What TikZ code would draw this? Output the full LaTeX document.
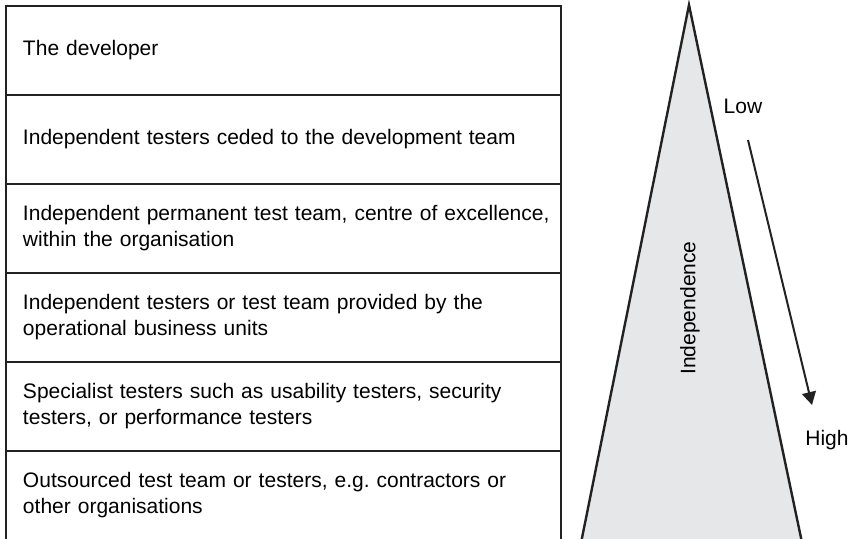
\documentclass[tikz,border=0pt]{standalone}
\usepackage{fontspec}
\setmainfont{Liberation Sans}
\usetikzlibrary{positioning, arrows.meta}
\definecolor{coneGray}{HTML}{E6E7E9}
\definecolor{lineDark}{HTML}{222222}

\begin{document}
\begin{tikzpicture}
        [
            x = 1pt, y = 1pt,
            level/.style = {draw = lineDark, line width = 2.2pt, rectangle, anchor = north, outer sep = 0pt, inner xsep = 17pt, inner ysep = 0pt, text width = 521pt, minimum height = 89pt, align = left, font = \fontsize{21}{26}\selectfont},
            label/.style = {font = \fontsize{21}{24}\selectfont, inner sep = 0pt}
        ]
        \useasboundingbox (0, 0) rectangle (848, 538);
        % levels of independence, top to bottom
        \node[level, anchor = north west] (dev) at (6, 532) {The developer};
        \node[level, below = 0pt of dev] (ceded) {Independent testers ceded to the development team};
        \node[level, below = 0pt of ceded] (perm) {\mbox{Independent permanent test team, centre of excellence,}\\ within the organisation};
        \node[level, below = 0pt of perm] (business) {Independent testers or test team provided by the\\ operational business units};
        \node[level, below = 0pt of business] (special) {Specialist testers such as usability testers, security\\ testers, or performance testers};
        \node[level, below = 0pt of special] (outsourced) {Outsourced test team or testers, e.g.\ contractors or\\ other organisations};
        % the cone
        \draw[lineDark, fill = coneGray, line width = 2.4pt, line join = miter] (580.8, -6) -- (689, 533) -- (802.3, -6);
        \node[label, rotate = 90] (indep) at (690, 230) {Independence};
        \node[label] (low) at (743, 432) {Low};
        \node[label] (high) at (827, 98) {High};
        \coordinate (arrowstart) at (748, 398);
        \coordinate (arrowend) at (812, 133);
        \draw[lineDark, line width = 2pt, -{Triangle[length = 13pt, width = 14pt]}] (arrowstart) -- (arrowend);
    \end{tikzpicture}
\end{document}
